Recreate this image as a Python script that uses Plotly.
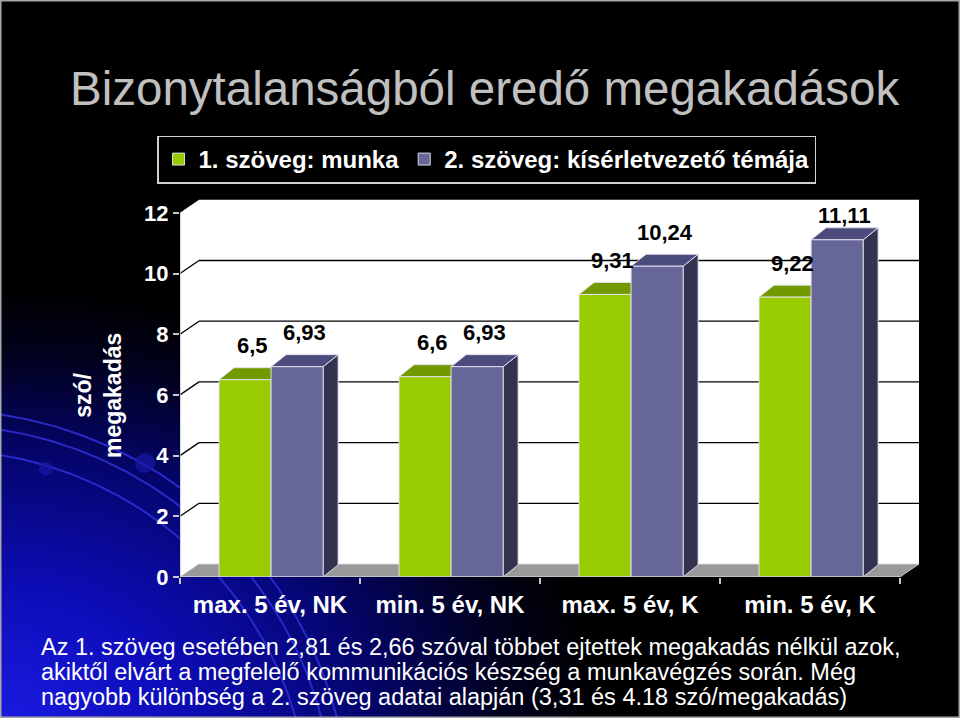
import math
import plotly.graph_objects as go

# ---------------- data ----------------
categories = ["max. 5 év, NK", "min. 5 év, NK", "max. 5 év, K", "min. 5 év, K"]
series1_name = "1. szöveg: munka"
series2_name = "2. szöveg: kísérletvezető témája"
series1 = [6.5, 6.6, 9.31, 9.22]
series2 = [6.93, 6.93, 10.24, 11.11]
y_ticks = [0, 2, 4, 6, 8, 10, 12]
title_text = "Bizonytalanságból eredő megakadások"
y_title = "szó/<br>megakadás"
note_lines = [
    "Az 1. szöveg esetében 2,81 és 2,66 szóval többet ejtettek megakadás nélkül azok,",
    "akiktől elvárt a megfelelő kommunikációs készség a munkavégzés során. Még",
    "nagyobb különbség a 2. szöveg adatai alapján (3,31 és 4.18 szó/megakadás)",
]

# ---------------- geometry (pixels) ----------------
W, H = 960, 718
PX_L, PX_R = 180, 919          # plot area left/right
PX_B, PX_T = 577, 199          # plot area bottom/top
YMAX = 12
x_lo, x_hi = -0.5, len(categories) - 0.5
ppu_x = 180.0                  # px per category
ppu_y = 30.35                  # px per value unit
dxw = 19 / ppu_x               # wall depth
dyw = 13 / ppu_y
dxb = 15 / ppu_x               # bar depth
dyb = 12 / ppu_y
x_range = [x_lo, x_lo + (PX_R - PX_L) / ppu_x]
y_range = [0, (PX_B - PX_T) / ppu_y]

bar_w = 0.289
off1 = -0.283
off2 = off1 + bar_w

GREEN, GREEN_TOP, GREEN_SIDE = "#99CC00", "#739900", "#5c7a00"
PURP, PURP_TOP, PURP_SIDE = "#666699", "#4b4b7d", "#33334f"
EDGE = "rgba(225,225,235,0.95)"
FONT = "Liberation Sans, Arial, sans-serif"

fig = go.Figure()

# ---------- background subplot (x / y) : radial blue glow ----------
RX, RY = 600, 430
fig.add_trace(go.Scatter(
    x=[-RX, RX, RX, -RX, -RX], y=[H - RY, H - RY, H + RY, H + RY, H - RY],
    mode="lines", line=dict(width=0), fill="toself",
    fillgradient=dict(type="radial",
                      colorscale=[[0, "#1a1ae0"], [0.3, "#0d0db8"], [0.6, "#050570"],
                                  [0.85, "#01011c"], [1, "#000000"]]),
    hoverinfo="skip", showlegend=False, xaxis="x", yaxis="y"))

# decorative arcs
for (cx, cy, r) in [(-60, 820, 410), (-60, 820, 395), (-60, 820, 370)]:
    xs, ys = [], []
    for k in range(0, 181):
        t = math.radians(k * 0.5)
        xs.append(cx + r * math.sin(t))
        ys.append(cy - r * math.cos(t))
    fig.add_trace(go.Scatter(x=xs, y=ys, mode="lines",
                             line=dict(color="rgba(45,45,210,0.9)", width=2),
                             hoverinfo="skip", showlegend=False, xaxis="x", yaxis="y"))
fig.add_trace(go.Scatter(x=[46, 145], y=[469, 463], mode="markers",
                         marker=dict(size=[14, 20], color="#1818a8", line=dict(width=0)),
                         hoverinfo="skip", showlegend=False, xaxis="x", yaxis="y"))

# ---------- main chart (x2 / y2) ----------
xs_cat = list(range(len(categories)))
fig.add_trace(go.Bar(
    x=xs_cat, y=series1, name=series1_name, width=bar_w, offset=off1,
    marker=dict(color=GREEN, line=dict(color=EDGE, width=1)),
    xaxis="x2", yaxis="y2"))
fig.add_trace(go.Bar(
    x=xs_cat, y=series2, name=series2_name, width=bar_w, offset=off2,
    marker=dict(color=PURP, line=dict(color=EDGE, width=1)),
    xaxis="x2", yaxis="y2"))

shapes = []


def poly(pts, fill, line=None, lw=0, layer="below"):
    path = "M " + " L ".join(f"{px},{py}" for px, py in pts) + " Z"
    return dict(type="path", path=path, xref="x2", yref="y2", fillcolor=fill,
                layer=layer, line=dict(width=lw, color=line or "rgba(0,0,0,0)"))


# walls
shapes.append(poly([(x_lo, 0), (x_lo, YMAX), (x_lo + dxw, YMAX + dyw), (x_lo + dxw, dyw)], "white"))
shapes.append(poly([(x_lo + dxw, dyw), (x_lo + dxw, YMAX + dyw), (x_hi + dxw, YMAX + dyw), (x_hi + dxw, dyw)], "white"))
# floor
shapes.append(poly([(x_lo, 0), (x_hi, 0), (x_hi + dxw, dyw), (x_lo + dxw, dyw)], "#9a9a9a", "#dddddd", 0.8))
# gridlines
for v in y_ticks[1:-1]:
    shapes.append(dict(type="line", xref="x2", yref="y2", layer="below",
                       x0=x_lo + dxw, x1=x_hi + dxw, y0=v + dyw, y1=v + dyw,
                       line=dict(color="black", width=1.3)))
    shapes.append(dict(type="line", xref="x2", yref="y2", layer="below",
                       x0=x_lo, x1=x_lo + dxw, y0=v, y1=v + dyw,
                       line=dict(color="black", width=1.3)))
# bar tops / sides
for i, (v1, v2) in enumerate(zip(series1, series2)):
    for v, off, ctop, cside in [(v1, off1, GREEN_TOP, GREEN_SIDE), (v2, off2, PURP_TOP, PURP_SIDE)]:
        a = i + off
        b = a + bar_w
        shapes.append(poly([(b, 0), (b, v), (b + dxb, v + dyb), (b + dxb, dyb)], cside, EDGE, 1))
        shapes.append(poly([(a, v), (b, v), (b + dxb, v + dyb), (a + dxb, v + dyb)], ctop, EDGE, 1))
# axis lines
shapes.append(dict(type="line", xref="x2", yref="y2", layer="above",
                   x0=x_lo, x1=x_lo, y0=0, y1=YMAX, line=dict(color="#c8c8c8", width=1.5)))
shapes.append(dict(type="line", xref="x2", yref="y2", layer="above",
                   x0=x_lo, x1=x_hi, y0=0, y1=0, line=dict(color="#c8c8c8", width=1.5)))
# slide frame
shapes.append(dict(type="rect", xref="paper", yref="paper", x0=0, x1=1, y0=0, y1=1,
                   layer="above", line=dict(color="#a8a8a8", width=3)))

annotations = []
label_ceiling = YMAX + dyw - 16 / ppu_y
for i, (v1, v2) in enumerate(zip(series1, series2)):
    for v, off in [(v1, off1), (v2, off2)]:
        ly = min(v + dyb + 22 / ppu_y, label_ceiling)
        annotations.append(dict(
            x=i + off + bar_w / 2 + dxb / 2, y=ly, xref="x2", yref="y2",
            xanchor="center", yanchor="middle",
            text=f"{v:g}".replace(".", ","), showarrow=False,
            font=dict(family=FONT, size=22, color="black", weight="bold")))
annotations.append(dict(x=68 / W, y=1 - 88 / H, xref="paper", yref="paper", xanchor="left",
                        yanchor="middle", text=title_text, showarrow=False,
                        font=dict(family=FONT, size=47.5, color="#c0c0c0")))
annotations.append(dict(x=98 / W, y=1 - 396 / H, xref="paper", yref="paper", textangle=-90,
                        xanchor="center", yanchor="middle",
                        text=y_title, showarrow=False, align="center",
                        font=dict(family=FONT, size=23, color="white", weight="bold")))
for k, line in enumerate(note_lines):
    annotations.append(dict(x=39 / W, y=1 - (647 + 25 * k) / H, xref="paper", yref="paper",
                            xanchor="left", yanchor="middle", text=line, showarrow=False,
                            font=dict(family=FONT, size=23.5, color="white")))

fig.update_layout(
    width=W, height=H, margin=dict(l=0, r=0, t=0, b=0, pad=0, autoexpand=False),
    paper_bgcolor="black", plot_bgcolor="rgba(0,0,0,0)",
    barmode="overlay", shapes=shapes, annotations=annotations,
    xaxis=dict(domain=[0, 1], range=[0, W], visible=False, fixedrange=True),
    yaxis=dict(domain=[0, 1], range=[H, 0], visible=False, fixedrange=True),
    xaxis2=dict(domain=[PX_L / W, PX_R / W], range=x_range, anchor="y2",
                tickvals=xs_cat, ticktext=categories, showgrid=False, zeroline=False,
                showline=False, ticks="outside", ticklen=6, tickcolor="rgba(0,0,0,0)",
                minor=dict(tickvals=[x_lo + k for k in range(len(categories) + 1)],
                           ticks="outside", ticklen=6, tickcolor="#c8c8c8", tickwidth=1.5),
                tickfont=dict(family=FONT, size=24, color="white", weight="bold")),
    yaxis2=dict(domain=[1 - PX_B / H, 1 - PX_T / H], range=y_range, anchor="x2",
                tickvals=y_ticks, showgrid=False, zeroline=False, showline=False,
                ticks="outside", ticklen=6, tickcolor="#c8c8c8", tickwidth=1.5,
                tickfont=dict(family=FONT, size=22, color="white", weight="bold")),
    legend=dict(orientation="h", x=157 / W, y=1 - 135.5 / H, xanchor="left", yanchor="top",
                bgcolor="black", bordercolor="#d0d0d0", borderwidth=1.5,
                font=dict(family=FONT, size=24, color="white", weight="bold"),
                itemwidth=30, tracegroupgap=0),
)

fig.write_html(
    "out.html",
    config={"displayModeBar": False},
    post_script=("document.documentElement.style.background='black';"
                 "document.body.style.margin='0';document.body.style.overflow='hidden';"),
)
